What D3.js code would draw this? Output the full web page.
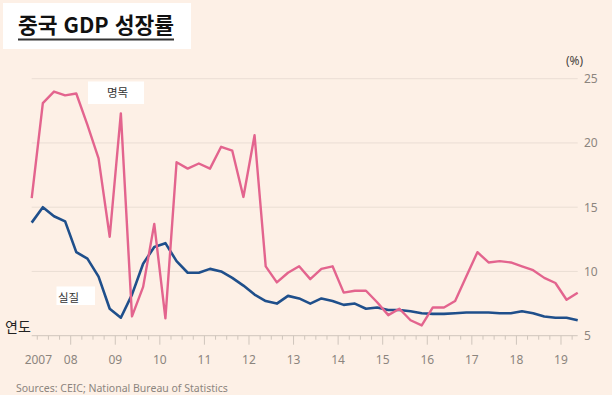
<!DOCTYPE html>
<html lang="ko">
<head>
<meta charset="UTF-8">
<title>중국 GDP 성장률</title>
<script src="https://cdnjs.cloudflare.com/ajax/libs/d3/7.8.5/d3.min.js"></script>
<style>
  body { margin: 0; background: #fdf0e6; }
  svg { display: block; }
  text { font-family: "Noto Sans", "Noto Sans CJK KR", sans-serif; }
  .kr { font-family: "Noto Sans CJK KR", sans-serif; }
</style>
</head>
<body>
<div id="chart"></div>
<script>
// quarterly data, 2007 Q1 - 2019 Q2 (% y/y)
const startYear = 2007;
const nominal = [15.7, 23.1, 24.0, 23.7, 23.85, 21.4, 18.8, 12.7, 22.3, 6.5,
                 8.8, 13.7, 6.35, 18.5, 18.0, 18.4, 18.0, 19.7, 19.4, 15.8,
                 20.6, 10.4, 9.15, 9.9, 10.4, 9.4, 10.2, 10.4, 8.35, 8.5,
                 8.5, 7.6, 6.6, 7.1, 6.2, 5.8, 7.2, 7.2, 7.7, 9.6,
                 11.5, 10.7, 10.8, 10.7, 10.4, 10.1, 9.5, 9.1, 7.8, 8.35];
const real = [13.8, 15.0, 14.3, 13.9, 11.5, 11.0, 9.6, 7.1, 6.4, 8.2,
              10.6, 11.9, 12.2, 10.8, 9.9, 9.9, 10.2, 10.0, 9.5, 8.9,
              8.2, 7.7, 7.5, 8.1, 7.9, 7.5, 7.9, 7.7, 7.4, 7.5,
              7.1, 7.2, 7.0, 7.0, 6.9, 6.75, 6.7, 6.7, 6.75, 6.8,
              6.8, 6.8, 6.75, 6.75, 6.9, 6.75, 6.5, 6.4, 6.4, 6.2];
const yearLabels = ["2007", "08", "09", "10", "11", "12", "13", "14", "15", "16", "17", "18", "19"];
const yTicks = [5, 10, 15, 20, 25];

const width = 612, height = 395;

// quarter midpoints as fractional years
const quarters = nominal.map((d, i) => startYear + i * 0.25 + 0.125);

const x = d3.scaleLinear()
    .domain([quarters[0], quarters[quarters.length - 1]])
    .range([31.7, 577.7]);
const y = d3.scaleLinear().domain([5, 25]).range([335.7, 78.7]);

const svg = d3.select("#chart").append("svg")
    .attr("width", width)
    .attr("height", height);

svg.append("rect")
    .attr("width", width).attr("height", height)
    .attr("fill", "#fdf0e6");

// gridlines
svg.append("g").selectAll("line")
    .data(yTicks.slice(1))
    .join("line")
    .attr("x1", x.range()[0]).attr("x2", x.range()[1])
    .attr("y1", d => y(d)).attr("y2", d => y(d))
    .attr("stroke", "#eaded4").attr("stroke-width", 1);

// y labels on the right
svg.append("g").selectAll("text")
    .data(yTicks)
    .join("text")
    .attr("x", 584).attr("y", d => y(d))
    .attr("dy", "0.36em")
    .attr("font-size", 12)
    .attr("fill", "#8c857e")
    .text(d => d);

svg.append("text")
    .attr("x", 566).attr("y", 65)
    .attr("font-size", 12)
    .attr("fill", "#4a4542")
    .text("(%)");

// x axis: baseline, quarter ticks, year ticks
const axisG = svg.append("g").attr("transform", `translate(0,${y(5)})`);
const years = d3.range(startYear, startYear + yearLabels.length);
const quarterTicks = d3.range(startYear + 0.25, 2019.3, 0.25)
    .filter(t => Math.abs(t - Math.round(t)) > 0.01);
const yearTicks = years.filter(yr => x(yr) >= x.range()[0]);

axisG.append("line")
    .attr("x1", x.range()[0]).attr("x2", x.range()[1])
    .attr("stroke", "#cfc5bc");
axisG.selectAll(".minor")
    .data(quarterTicks)
    .join("line")
    .attr("class", "minor")
    .attr("x1", d => x(d)).attr("x2", d => x(d))
    .attr("y1", 0).attr("y2", 4)
    .attr("stroke", "#cfc5bc");
axisG.selectAll(".major")
    .data(yearTicks)
    .join("line")
    .attr("class", "major")
    .attr("x1", d => x(d)).attr("x2", d => x(d))
    .attr("y1", 0).attr("y2", 9)
    .attr("stroke", "#cfc5bc");
axisG.selectAll(".ylab")
    .data(years)
    .join("text")
    .attr("class", "ylab")
    .attr("x", (d, i) => i === 0 ? x(d) - 1.5 : x(d))
    .attr("y", 28.5)
    .attr("text-anchor", (d, i) => i === 0 ? "start" : "middle")
    .attr("font-size", 12)
    .attr("fill", "#8c857e")
    .text((d, i) => yearLabels[i]);

// lines
const line = d3.line()
    .x((d, i) => x(quarters[i]))
    .y(d => y(d));

svg.append("path")
    .datum(real)
    .attr("d", line)
    .attr("fill", "none")
    .attr("stroke", "#1f4f8b")
    .attr("stroke-width", 2.6)
    .attr("stroke-linejoin", "round");

svg.append("path")
    .datum(nominal)
    .attr("d", line)
    .attr("fill", "none")
    .attr("stroke", "#e3648e")
    .attr("stroke-width", 2.4)
    .attr("stroke-linejoin", "round");

// series labels
svg.append("rect")
    .attr("x", 88).attr("y", 81.5).attr("width", 56).attr("height", 22.5)
    .attr("fill", "#fff");
svg.append("text")
    .attr("class", "kr")
    .attr("x", 117.5).attr("y", 93)
    .attr("dy", "0.36em")
    .attr("text-anchor", "middle")
    .attr("font-size", 11.5)
    .attr("fill", "#333")
    .text("명목");

svg.append("rect")
    .attr("x", 56.5).attr("y", 286.5).attr("width", 38.5).attr("height", 18.5)
    .attr("fill", "#fff");
svg.append("text")
    .attr("class", "kr")
    .attr("x", 58).attr("y", 298)
    .attr("dy", "0.36em")
    .attr("font-size", 11.5)
    .attr("fill", "#333")
    .text("실질");

svg.append("text")
    .attr("class", "kr")
    .attr("x", 5).attr("y", 326.5)
    .attr("dy", "0.36em")
    .attr("font-size", 14)
    .attr("fill", "#222")
    .text("연도");

// title
svg.append("rect")
    .attr("x", 3).attr("y", 3).attr("width", 188).attr("height", 46)
    .attr("fill", "#fff");
const title = svg.append("text")
    .attr("class", "kr")
    .attr("x", 18).attr("y", 33)
    .attr("font-size", 22)
    .attr("font-weight", 700)
    .attr("fill", "#111")
    .text("중국 GDP 성장률");
const tw = title.node().getComputedTextLength();
if (tw > 0) title.attr("font-size", 22 * 156 / tw);
svg.append("rect")
    .attr("x", 18).attr("y", 38.5).attr("width", 156).attr("height", 2)
    .attr("fill", "#333");

// source
svg.append("text")
    .attr("x", 16).attr("y", 391.5)
    .attr("font-size", 10.5)
    .attr("fill", "#8c857e")
    .text("Sources: CEIC; National Bureau of Statistics");
</script>
</body>
</html>
